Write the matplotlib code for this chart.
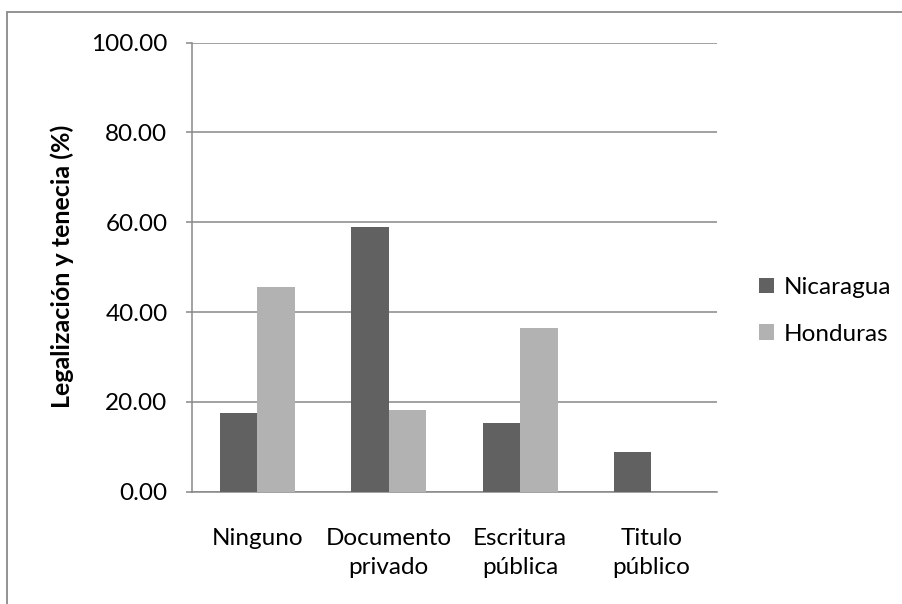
import matplotlib
matplotlib.use("Agg")
import matplotlib.pyplot as plt
import numpy as np
from matplotlib.patches import Rectangle, Patch

categories = ["Ninguno", "Documento\nprivado", "Escritura\npública", "Titulo\npúblico"]
nicaragua = [17.5, 58.9, 15.3, 8.8]
honduras = [45.6, 18.2, 36.5, 0.0]
series_names = ["Nicaragua", "Honduras"]
yticks = [0, 20, 40, 60, 80, 100]
ylabel = "Legalización y tenecia (%)"

plt.rcParams['font.family'] = ['Lato', 'DejaVu Sans']

W, H = 903, 604
fig = plt.figure(figsize=(W / 100, H / 100), dpi=100)
fig.patch.set_facecolor("white")

# outer chart border
fig.patches.append(Rectangle((7 / W, 0 - 0.05), 1.2, (H - 11.5) / H + 0.05,
                             transform=fig.transFigure, fill=False,
                             edgecolor="#8a8a8a", linewidth=1.3))

ax = fig.add_axes([191.8 / W, (H - 491.7) / H, (717 - 191.8) / W, (491.7 - 42.5) / H])

dark = "#616161"
light = "#b2b2b2"
grid = "#878787"
fs = 17.5

x = np.arange(len(categories))
w = 1 / 3.5
ax.bar(x - w / 2, nicaragua, w, color=dark, label=series_names[0], zorder=3)
ax.bar(x + w / 2, honduras, w, color=light, label=series_names[1], zorder=3)

ax.set_xlim(-0.5, len(categories) - 0.5)
ax.set_ylim(0, 100)
ax.set_yticks(yticks)
ax.set_yticklabels([f"{v:.2f}" for v in yticks], fontsize=fs, color="#000000")
ax.yaxis.grid(True, color=grid, linewidth=1.1, zorder=0)
ax.set_axisbelow(True)
ax.tick_params(axis="y", direction="out", length=4.5, width=1.1, color=grid, pad=13)
ax.set_xticks(x)
ax.set_xticklabels(categories, fontsize=fs, linespacing=1.5)
ax.tick_params(axis="x", length=0, pad=26)

for s in ["top", "right"]:
    ax.spines[s].set_visible(False)
for s in ["left", "bottom"]:
    ax.spines[s].set_color(grid)
    ax.spines[s].set_linewidth(1.1)

ax.set_ylabel(ylabel, fontsize=18, fontweight="bold")
ax.yaxis.set_label_coords((74 - 191.8) / 525.2, (491.7 - 266.5) / 449.2)

handles = [Patch(facecolor=dark), Patch(facecolor=light)]
fig.legend(handles, series_names, loc="center left",
           bbox_to_anchor=(759 / W, (H - 311) / H), frameon=False,
           borderpad=0, borderaxespad=0,
           fontsize=fs, handlelength=0.6, handleheight=0.6, handletextpad=0.4,
           labelspacing=1.05)

fig.savefig("out.png", dpi=100)
